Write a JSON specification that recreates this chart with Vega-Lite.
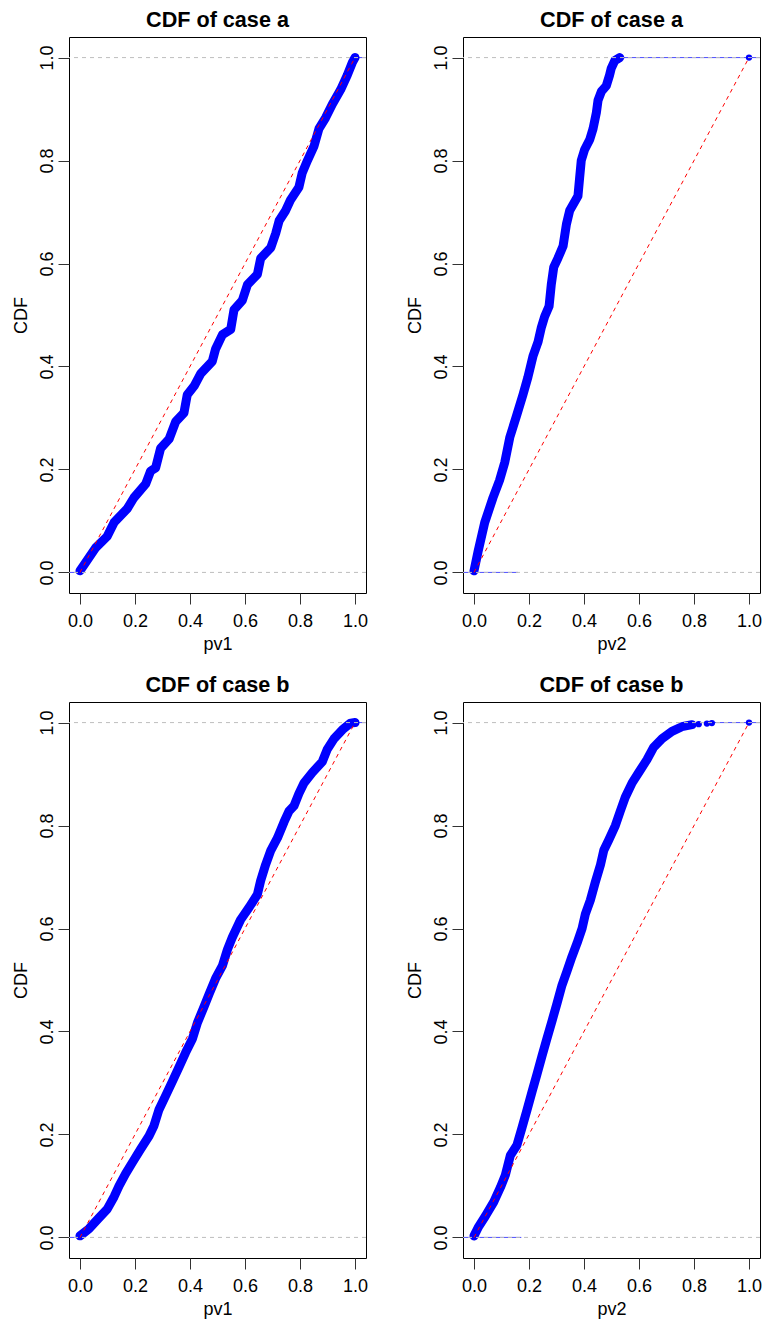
{
  "$schema": "https://vega.github.io/schema/vega-lite/v6.json",
  "padding": {"left": 11, "top": 9, "right": 0, "bottom": 0},
  "background": "white",
  "datasets": {
    "a1": [
      {"x":0,"y":0.003},{"x":0.015,"y":0.015},{"x":0.057,"y":0.048},{"x":0.099,"y":0.070},{"x":0.124,"y":0.097},{"x":0.172,"y":0.124},{"x":0.196,"y":0.145},{"x":0.239,"y":0.172},{"x":0.257,"y":0.197},{"x":0.275,"y":0.203},{"x":0.293,"y":0.241},{"x":0.324,"y":0.259},{"x":0.348,"y":0.293},{"x":0.378,"y":0.310},{"x":0.390,"y":0.345},{"x":0.415,"y":0.362},{"x":0.439,"y":0.386},{"x":0.481,"y":0.410},{"x":0.493,"y":0.434},{"x":0.518,"y":0.462},{"x":0.548,"y":0.472},{"x":0.560,"y":0.510},{"x":0.590,"y":0.528},{"x":0.609,"y":0.559},{"x":0.645,"y":0.579},{"x":0.657,"y":0.610},{"x":0.694,"y":0.631},{"x":0.712,"y":0.659},{"x":0.724,"y":0.683},{"x":0.748,"y":0.703},{"x":0.766,"y":0.724},{"x":0.796,"y":0.748},{"x":0.808,"y":0.776},{"x":0.827,"y":0.800},{"x":0.851,"y":0.828},{"x":0.869,"y":0.862},{"x":0.893,"y":0.883},{"x":0.918,"y":0.910},{"x":0.948,"y":0.938},{"x":0.972,"y":0.966},{"x":0.990,"y":0.990},{"x":1.0,"y":1.0}
    ],
    "a2": [
      {"x":0,"y":0.003},{"x":0.015,"y":0.041},{"x":0.039,"y":0.097},{"x":0.069,"y":0.145},{"x":0.093,"y":0.179},{"x":0.112,"y":0.214},{"x":0.130,"y":0.262},{"x":0.154,"y":0.303},{"x":0.178,"y":0.345},{"x":0.196,"y":0.379},{"x":0.215,"y":0.421},{"x":0.233,"y":0.448},{"x":0.245,"y":0.476},{"x":0.257,"y":0.497},{"x":0.273,"y":0.517},{"x":0.281,"y":0.559},{"x":0.290,"y":0.593},{"x":0.305,"y":0.610},{"x":0.324,"y":0.634},{"x":0.336,"y":0.676},{"x":0.348,"y":0.703},{"x":0.378,"y":0.731},{"x":0.384,"y":0.766},{"x":0.390,"y":0.800},{"x":0.402,"y":0.821},{"x":0.421,"y":0.841},{"x":0.433,"y":0.862},{"x":0.445,"y":0.893},{"x":0.451,"y":0.917},{"x":0.463,"y":0.934},{"x":0.481,"y":0.945},{"x":0.493,"y":0.966},{"x":0.499,"y":0.979},{"x":0.512,"y":0.994},{"x":0.530,"y":1.0},{"x":1.0,"y":1.0,"iso":true}
    ],
    "b1": [
      {"x":0,"y":0.003},{"x":0.033,"y":0.017},{"x":0.069,"y":0.038},{"x":0.099,"y":0.055},{"x":0.124,"y":0.079},{"x":0.142,"y":0.100},{"x":0.166,"y":0.124},{"x":0.190,"y":0.145},{"x":0.221,"y":0.172},{"x":0.251,"y":0.197},{"x":0.269,"y":0.217},{"x":0.287,"y":0.248},{"x":0.312,"y":0.276},{"x":0.336,"y":0.303},{"x":0.360,"y":0.331},{"x":0.384,"y":0.359},{"x":0.409,"y":0.386},{"x":0.427,"y":0.417},{"x":0.451,"y":0.448},{"x":0.469,"y":0.472},{"x":0.493,"y":0.503},{"x":0.518,"y":0.528},{"x":0.536,"y":0.559},{"x":0.554,"y":0.583},{"x":0.584,"y":0.617},{"x":0.615,"y":0.641},{"x":0.645,"y":0.666},{"x":0.657,"y":0.693},{"x":0.675,"y":0.724},{"x":0.694,"y":0.752},{"x":0.718,"y":0.776},{"x":0.742,"y":0.807},{"x":0.760,"y":0.828},{"x":0.778,"y":0.838},{"x":0.796,"y":0.862},{"x":0.815,"y":0.883},{"x":0.845,"y":0.903},{"x":0.881,"y":0.924},{"x":0.899,"y":0.948},{"x":0.924,"y":0.969},{"x":0.954,"y":0.986},{"x":0.984,"y":0.999},{"x":1.0,"y":1.0}
    ],
    "b2": [
      {"x":0,"y":0.003},{"x":0.017,"y":0.021},{"x":0.041,"y":0.041},{"x":0.072,"y":0.069},{"x":0.096,"y":0.097},{"x":0.114,"y":0.121},{"x":0.132,"y":0.159},{"x":0.156,"y":0.179},{"x":0.175,"y":0.214},{"x":0.193,"y":0.248},{"x":0.211,"y":0.283},{"x":0.229,"y":0.317},{"x":0.247,"y":0.352},{"x":0.265,"y":0.386},{"x":0.284,"y":0.421},{"x":0.302,"y":0.455},{"x":0.320,"y":0.490},{"x":0.338,"y":0.517},{"x":0.356,"y":0.545},{"x":0.375,"y":0.572},{"x":0.393,"y":0.600},{"x":0.405,"y":0.628},{"x":0.423,"y":0.655},{"x":0.441,"y":0.690},{"x":0.460,"y":0.724},{"x":0.472,"y":0.752},{"x":0.490,"y":0.772},{"x":0.514,"y":0.800},{"x":0.532,"y":0.828},{"x":0.550,"y":0.855},{"x":0.575,"y":0.883},{"x":0.599,"y":0.903},{"x":0.629,"y":0.928},{"x":0.653,"y":0.952},{"x":0.684,"y":0.969},{"x":0.720,"y":0.983},{"x":0.756,"y":0.992},{"x":0.793,"y":0.996},{"x":0.817,"y":0.997,"iso":true},{"x":0.847,"y":0.998,"iso":true},{"x":0.865,"y":0.999,"iso":true},{"x":1.0,"y":1.0,"iso":true}
    ],
    "s_a1": [{"x":-0.04,"x2":0,"y":0},{"x":1.0,"x2":1.04,"y":1}],
    "s_a2": [{"x":-0.04,"x2":0.16,"y":0},{"x":0.53,"x2":1.04,"y":1}],
    "s_b1": [{"x":-0.04,"x2":0,"y":0},{"x":1.0,"x2":1.04,"y":1}],
    "s_b2": [{"x":-0.04,"x2":0.172,"y":0},{"x":0.865,"x2":1.04,"y":1}],
    "hl": [{"y":0},{"y":1}],
    "diag": [{"x":0,"y":0,"x2":1,"y2":1}]
  },
  "vconcat": [
    {"hconcat": [
      {"width":297,"height":556,"title":"CDF of case a","layer":[
        {"data":{"name":"a1"},"transform":[{"filter":"!datum.iso"}],"mark":{"type":"line","color":"blue","strokeWidth":9,"strokeCap":"round","strokeJoin":"round","clip":true},
         "encoding":{"x":{"field":"x","type":"quantitative","title":"pv1","scale":{"domain":[-0.04,1.04],"nice":false,"zero":false},"axis":{"values":[0,0.2,0.4,0.6,0.8,1],"format":".1f"}},
                     "y":{"field":"y","type":"quantitative","title":"CDF","scale":{"domain":[-0.04,1.04],"nice":false,"zero":false},"axis":{"values":[0,0.2,0.4,0.6,0.8,1],"format":".1f"}}}},
        {"data":{"name":"a1"},"mark":{"type":"point","filled":true,"color":"blue","size":40,"opacity":1,"clip":true},"encoding":{"x":{"field":"x","type":"quantitative","title":"pv1"},"y":{"field":"y","type":"quantitative","title":"CDF"}}},
        {"data":{"name":"s_a1"},"mark":{"type":"rule","color":"blue","strokeWidth":1,"opacity":0.7,"clip":true},"encoding":{"x":{"field":"x","type":"quantitative","title":"pv1"},"x2":{"field":"x2"},"y":{"field":"y","type":"quantitative","title":"CDF"}}},
        {"data":{"name":"hl"},"mark":{"type":"rule","color":"#bebebe","strokeWidth":1,"strokeDash":[4,4]},"encoding":{"y":{"field":"y","type":"quantitative","title":"CDF"}}},
        {"data":{"name":"diag"},"mark":{"type":"rule","color":"red","strokeWidth":1,"strokeDash":[4,4]},"encoding":{"x":{"field":"x","type":"quantitative","title":"pv1"},"y":{"field":"y","type":"quantitative","title":"CDF"},"x2":{"field":"x2"},"y2":{"field":"y2"}}}
      ]},
      {"width":297,"height":556,"title":"CDF of case a","layer":[
        {"data":{"name":"a2"},"transform":[{"filter":"!datum.iso"}],"mark":{"type":"line","color":"blue","strokeWidth":9,"strokeCap":"round","strokeJoin":"round","clip":true},
         "encoding":{"x":{"field":"x","type":"quantitative","title":"pv2","scale":{"domain":[-0.04,1.04],"nice":false,"zero":false},"axis":{"values":[0,0.2,0.4,0.6,0.8,1],"format":".1f"}},
                     "y":{"field":"y","type":"quantitative","title":"CDF","scale":{"domain":[-0.04,1.04],"nice":false,"zero":false},"axis":{"values":[0,0.2,0.4,0.6,0.8,1],"format":".1f"}}}},
        {"data":{"name":"a2"},"mark":{"type":"point","filled":true,"color":"blue","size":40,"opacity":1,"clip":true},"encoding":{"x":{"field":"x","type":"quantitative","title":"pv2"},"y":{"field":"y","type":"quantitative","title":"CDF"}}},
        {"data":{"name":"s_a2"},"mark":{"type":"rule","color":"blue","strokeWidth":1,"opacity":0.7,"clip":true},"encoding":{"x":{"field":"x","type":"quantitative","title":"pv2"},"x2":{"field":"x2"},"y":{"field":"y","type":"quantitative","title":"CDF"}}},
        {"data":{"name":"hl"},"mark":{"type":"rule","color":"#bebebe","strokeWidth":1,"strokeDash":[4,4]},"encoding":{"y":{"field":"y","type":"quantitative","title":"CDF"}}},
        {"data":{"name":"diag"},"mark":{"type":"rule","color":"red","strokeWidth":1,"strokeDash":[4,4]},"encoding":{"x":{"field":"x","type":"quantitative","title":"pv2"},"y":{"field":"y","type":"quantitative","title":"CDF"},"x2":{"field":"x2"},"y2":{"field":"y2"}}}
      ]}
    ]},
    {"hconcat": [
      {"width":297,"height":556,"title":"CDF of case b","layer":[
        {"data":{"name":"b1"},"transform":[{"filter":"!datum.iso"}],"mark":{"type":"line","color":"blue","strokeWidth":9,"strokeCap":"round","strokeJoin":"round","clip":true},
         "encoding":{"x":{"field":"x","type":"quantitative","title":"pv1","scale":{"domain":[-0.04,1.04],"nice":false,"zero":false},"axis":{"values":[0,0.2,0.4,0.6,0.8,1],"format":".1f"}},
                     "y":{"field":"y","type":"quantitative","title":"CDF","scale":{"domain":[-0.04,1.04],"nice":false,"zero":false},"axis":{"values":[0,0.2,0.4,0.6,0.8,1],"format":".1f"}}}},
        {"data":{"name":"b1"},"mark":{"type":"point","filled":true,"color":"blue","size":40,"opacity":1,"clip":true},"encoding":{"x":{"field":"x","type":"quantitative","title":"pv1"},"y":{"field":"y","type":"quantitative","title":"CDF"}}},
        {"data":{"name":"s_b1"},"mark":{"type":"rule","color":"blue","strokeWidth":1,"opacity":0.7,"clip":true},"encoding":{"x":{"field":"x","type":"quantitative","title":"pv1"},"x2":{"field":"x2"},"y":{"field":"y","type":"quantitative","title":"CDF"}}},
        {"data":{"name":"hl"},"mark":{"type":"rule","color":"#bebebe","strokeWidth":1,"strokeDash":[4,4]},"encoding":{"y":{"field":"y","type":"quantitative","title":"CDF"}}},
        {"data":{"name":"diag"},"mark":{"type":"rule","color":"red","strokeWidth":1,"strokeDash":[4,4]},"encoding":{"x":{"field":"x","type":"quantitative","title":"pv1"},"y":{"field":"y","type":"quantitative","title":"CDF"},"x2":{"field":"x2"},"y2":{"field":"y2"}}}
      ]},
      {"width":297,"height":556,"title":"CDF of case b","layer":[
        {"data":{"name":"b2"},"transform":[{"filter":"!datum.iso"}],"mark":{"type":"line","color":"blue","strokeWidth":9,"strokeCap":"round","strokeJoin":"round","clip":true},
         "encoding":{"x":{"field":"x","type":"quantitative","title":"pv2","scale":{"domain":[-0.04,1.04],"nice":false,"zero":false},"axis":{"values":[0,0.2,0.4,0.6,0.8,1],"format":".1f"}},
                     "y":{"field":"y","type":"quantitative","title":"CDF","scale":{"domain":[-0.04,1.04],"nice":false,"zero":false},"axis":{"values":[0,0.2,0.4,0.6,0.8,1],"format":".1f"}}}},
        {"data":{"name":"b2"},"mark":{"type":"point","filled":true,"color":"blue","size":40,"opacity":1,"clip":true},"encoding":{"x":{"field":"x","type":"quantitative","title":"pv2"},"y":{"field":"y","type":"quantitative","title":"CDF"}}},
        {"data":{"name":"s_b2"},"mark":{"type":"rule","color":"blue","strokeWidth":1,"opacity":0.7,"clip":true},"encoding":{"x":{"field":"x","type":"quantitative","title":"pv2"},"x2":{"field":"x2"},"y":{"field":"y","type":"quantitative","title":"CDF"}}},
        {"data":{"name":"hl"},"mark":{"type":"rule","color":"#bebebe","strokeWidth":1,"strokeDash":[4,4]},"encoding":{"y":{"field":"y","type":"quantitative","title":"CDF"}}},
        {"data":{"name":"diag"},"mark":{"type":"rule","color":"red","strokeWidth":1,"strokeDash":[4,4]},"encoding":{"x":{"field":"x","type":"quantitative","title":"pv2"},"y":{"field":"y","type":"quantitative","title":"CDF"},"x2":{"field":"x2"},"y2":{"field":"y2"}}}
      ]}
    ]}
  ],
  "spacing": 20,
  "config": {
    "view": {"stroke": "black", "strokeWidth": 1},
    "concat": {"spacing": 36},
    "axis": {"domain": false, "grid": false, "tickColor": "#333333", "tickSize": 11, "labelFont": "Liberation Sans", "labelFontSize": 18, "labelColor": "black", "titleFont": "Liberation Sans", "titleFontSize": 18, "titleFontWeight": "normal", "titleColor": "black", "labelOverlap": false, "labelFlush": false},
    "axisX": {"labelPadding": 8, "titlePadding": 5},
    "axisY": {"labelAngle": -90, "labelAlign": "center", "labelBaseline": "alphabetic", "labelPadding": 6, "titlePadding": 8},
    "title": {"font": "Liberation Sans", "fontSize": 21.6, "fontWeight": "bold", "color": "black", "offset": 5, "anchor": "middle"}
  }
}
